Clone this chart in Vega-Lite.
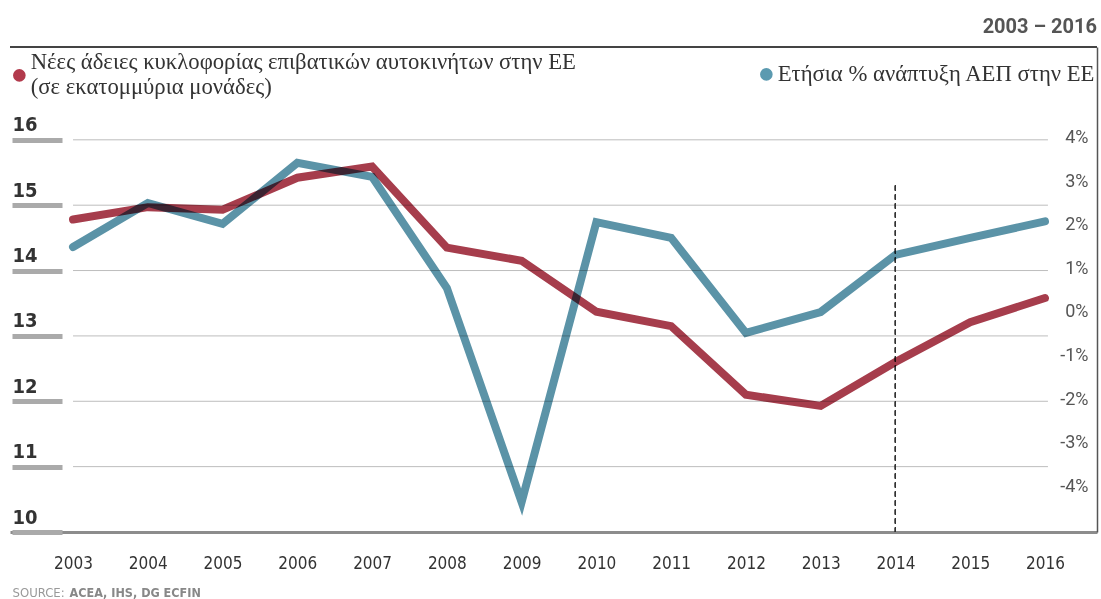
{
  "$schema": "https://vega.github.io/schema/vega-lite/v6.json",
  "width": 1087,
  "height": 485,
  "autosize": {"type": "none"},
  "padding": {"left": 10, "top": 47, "right": 4, "bottom": 67},
  "background": "white",
  "title": {"text": "2003 – 2016", "anchor": "end", "frame": "group", "offset": -7, "baseline": "alphabetic", "font": "Roboto", "fontSize": 20, "fontWeight": "bold", "color": "#555"},
  "config": {"view": {"stroke": null}},
  "data": {"values": [
    {"year": 2003, "cars": 14.78, "gdp": 1.49},
    {"year": 2004, "cars": 14.97, "gdp": 2.5},
    {"year": 2005, "cars": 14.93, "gdp": 2.02},
    {"year": 2006, "cars": 15.42, "gdp": 3.42},
    {"year": 2007, "cars": 15.59, "gdp": 3.1},
    {"year": 2008, "cars": 14.35, "gdp": 0.55},
    {"year": 2009, "cars": 14.15, "gdp": -4.36},
    {"year": 2010, "cars": 13.37, "gdp": 2.06},
    {"year": 2011, "cars": 13.15, "gdp": 1.7},
    {"year": 2012, "cars": 12.1, "gdp": -0.48},
    {"year": 2013, "cars": 11.93, "gdp": 0.0},
    {"year": 2014, "cars": 12.6, "gdp": 1.31},
    {"year": 2015, "cars": 13.21, "gdp": 1.7},
    {"year": 2016, "cars": 13.58, "gdp": 2.08}
  ]},
  "layer": [
    {
      "layer": [
        {
          "data": {"values": [{"cars": 11}, {"cars": 12}, {"cars": 13}, {"cars": 14}, {"cars": 15}, {"cars": 16}]},
          "mark": {"type": "rule", "color": "#bdbdbd", "strokeWidth": 1},
          "encoding": {
            "y": {"field": "cars", "type": "quantitative", "scale": {"domain": [10, 17.42], "nice": false, "zero": false}},
            "x": {"datum": 2003},
            "x2": {"datum": 2016.04}
          }
        },
        {
          "mark": {"type": "rule", "color": "#444", "strokeWidth": 1.5},
          "encoding": {"y": {"datum": 17.42}}
        },
        {
          "mark": {"type": "rule", "color": "#333", "strokeWidth": 1, "strokeDash": [5, 4]},
          "encoding": {"x": {"datum": 2014}, "y": {"datum": 15.3}, "y2": {"datum": 10}}
        },
        {
          "mark": {"type": "line", "strokeWidth": 8, "strokeCap": "round", "blend": "multiply"},
          "encoding": {
            "x": {"field": "year", "type": "quantitative",
              "scale": {"domain": [2002.157, 2016.696], "nice": false, "zero": false},
              "axis": {"orient": "bottom", "values": [2003, 2004, 2005, 2006, 2007, 2008, 2009, 2010, 2011, 2012, 2013, 2014, 2015, 2016], "format": "d",
                "domain": true, "domainColor": "#8c8c8c", "domainWidth": 3, "ticks": false, "tickSize": 0, "grid": false, "labelFlush": false,
                "labelPadding": 36, "labelBaseline": "alphabetic", "labelFont": "Liberation Sans Narrow, DejaVu Sans Condensed, sans-serif", "labelFontSize": 17, "labelColor": "#333",
                "title": "SOURCE:", "titleX": 2, "titleY": 64, "titleAnchor": "start", "titleAlign": "left", "titleBaseline": "alphabetic",
                "titleFont": "Liberation Sans Narrow, DejaVu Sans Condensed, sans-serif", "titleFontSize": 13, "titleFontWeight": "normal", "titleColor": "#999"}},
            "y": {"field": "cars", "type": "quantitative",
              "scale": {"domain": [10, 17.42], "nice": false, "zero": false},
              "axis": {"orient": "left", "offset": -52, "values": [10, 11, 12, 13, 14, 15, 16], "format": "d", "domain": false, "grid": false,
                "ticks": true, "tickSize": 50, "tickWidth": 5, "tickColor": "#aaa",
                "labelAlign": "left", "labelPadding": 0, "labelBaseline": "alphabetic", "labelOffset": -9,
                "labelFont": "Liberation Sans Narrow, DejaVu Sans Condensed, sans-serif", "labelFontSize": 20, "labelFontWeight": "bold", "labelColor": "#333",
                "title": "ACEA, IHS, DG ECFIN", "titleAngle": 0, "titleX": 7, "titleY": 549, "titleAlign": "left", "titleBaseline": "alphabetic",
                "titleFont": "Liberation Sans Narrow, DejaVu Sans Condensed, sans-serif", "titleFontSize": 12.5, "titleFontWeight": "bold", "titleColor": "#888"}},
            "color": {"datum": "Νέες άδειες κυκλοφορίας επιβατικών αυτοκινήτων στην ΕΕ|(σε εκατομμύρια μονάδες)",
              "scale": {"range": ["#a63d4c"]},
              "legend": {"orient": "none", "legendX": -2, "legendY": 17, "title": null, "padding": 0,
                "symbolType": "circle", "symbolSize": 160, "symbolFillColor": "#b23a4c", "symbolStrokeWidth": 0,
                "labelExpr": "split(datum.label, '|')", "labelBaseline": "line-bottom", "labelFont": "Liberation Serif", "labelFontSize": 22.7, "labelColor": "#333", "labelLimit": 0, "labelOffset": 0}}
          }
        }
      ]
    },
    {
      "mark": {"type": "line", "strokeWidth": 8, "strokeCap": "round", "blend": "multiply"},
      "encoding": {
        "x": {"field": "year", "type": "quantitative", "scale": {"domain": [2002.157, 2016.696], "nice": false, "zero": false}},
        "y": {"field": "gdp", "type": "quantitative",
          "scale": {"domain": [-5.046, 6.078], "nice": false, "zero": false},
          "axis": {"orient": "right", "values": [-4, -3, -2, -1, 0, 1, 2, 3, 4], "labelExpr": "datum.value + '%'",
            "domain": true, "domainColor": "#555", "domainWidth": 1.5, "ticks": false, "tickSize": 0, "grid": false,
            "labelAlign": "right", "labelPadding": -9, "labelBaseline": "middle", "labelFont": "Roboto", "labelFontSize": 18, "labelColor": "#555", "title": null}},
        "color": {"datum": "Ετήσια % ανάπτυξη ΑΕΠ στην ΕΕ",
          "scale": {"range": ["#5b93a7"]},
          "legend": {"orient": "none", "legendX": 745, "legendY": 16, "title": null, "padding": 0,
            "symbolType": "circle", "symbolSize": 160, "symbolFillColor": "#5b9ab0", "symbolStrokeWidth": 0,
            "labelFont": "Liberation Serif", "labelFontSize": 22.7, "labelColor": "#333", "labelLimit": 0, "labelOffset": 0}}
      }
    }
  ],
  "resolve": {"scale": {"y": "independent", "color": "independent"}}
}
